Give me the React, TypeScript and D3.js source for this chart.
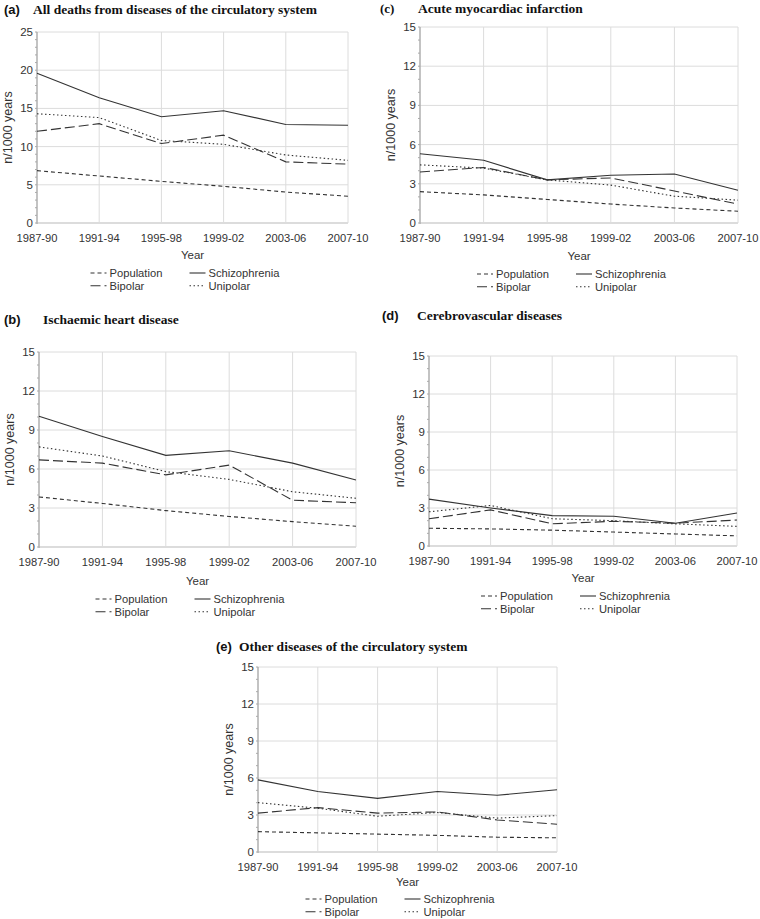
import React from 'react';
import * as d3 from 'd3';

const periods = ['1987-90', '1991-94', '1995-98', '1999-02', '2003-06', '2007-10'];

// (a) All deaths from diseases of the circulatory system
const aPopulation = [6.85, 6.15, 5.45, 4.8, 4.05, 3.5];
const aBipolar = [12.0, 13.0, 10.4, 11.5, 8.0, 7.7];
const aSchizophrenia = [19.6, 16.4, 13.9, 14.7, 12.9, 12.8];
const aUnipolar = [14.3, 13.8, 10.8, 10.3, 8.9, 8.2];

// (b) Ischaemic heart disease
const bPopulation = [3.85, 3.35, 2.8, 2.35, 1.95, 1.6];
const bBipolar = [6.7, 6.45, 5.55, 6.3, 3.6, 3.4];
const bSchizophrenia = [10.05, 8.5, 7.05, 7.4, 6.45, 5.15];
const bUnipolar = [7.7, 7.0, 5.8, 5.2, 4.25, 3.75];

// (c) Acute myocardiac infarction
const cPopulation = [2.4, 2.15, 1.8, 1.45, 1.15, 0.9];
const cBipolar = [3.9, 4.25, 3.3, 3.45, 2.45, 1.45];
const cSchizophrenia = [5.3, 4.8, 3.3, 3.65, 3.75, 2.5];
const cUnipolar = [4.45, 4.2, 3.3, 2.9, 2.05, 1.75];

// (d) Cerebrovascular diseases
const dPopulation = [1.4, 1.35, 1.25, 1.1, 0.95, 0.8];
const dBipolar = [2.15, 2.85, 1.75, 1.95, 1.8, 2.05];
const dSchizophrenia = [3.7, 3.0, 2.4, 2.35, 1.8, 2.6];
const dUnipolar = [2.7, 3.2, 2.15, 2.0, 1.75, 1.55];

// (e) Other diseases of the circulatory system
const ePopulation = [1.65, 1.55, 1.45, 1.35, 1.2, 1.15];
const eBipolar = [3.15, 3.6, 3.15, 3.25, 2.6, 2.25];
const eSchizophrenia = [5.85, 4.9, 4.35, 4.9, 4.6, 5.05];
const eUnipolar = [4.0, 3.55, 2.9, 3.2, 2.75, 2.95];

const ticksAll = [0, 5, 10, 15, 20, 25];
const ticksCause = [0, 3, 6, 9, 12, 15];

const seriesNames = ['Population', 'Bipolar', 'Schizophrenia', 'Unipolar'];
const dashes: Record<string, string> = {
  Population: '4,3',
  Bipolar: '10,4',
  Schizophrenia: 'none',
  Unipolar: '1.5,2.5',
};

const panels = [
  {
    tag: '(a)', title: 'All deaths from diseases of the circulatory system', tagSerif: false,
    series: [aPopulation, aBipolar, aSchizophrenia, aUnipolar], ticks: ticksAll,
    x0: 37, x1: 348, top: 32, bottom: 223, titleY: 14, tagX: 4, titleX: 33, yearGap: 32, legendGap: 50,
  },
  {
    tag: '(b)', title: 'Ischaemic heart disease', tagSerif: false,
    series: [bPopulation, bBipolar, bSchizophrenia, bUnipolar], ticks: ticksCause,
    x0: 39, x1: 356, top: 352, bottom: 547, titleY: 324, tagX: 4, titleX: 43, yearGap: 34, legendGap: 52,
  },
  {
    tag: '(c)', title: 'Acute myocardiac infarction', tagSerif: true,
    series: [cPopulation, cBipolar, cSchizophrenia, cUnipolar], ticks: ticksCause,
    x0: 420, x1: 738, top: 27, bottom: 223, titleY: 13, tagX: 380, titleX: 418, yearGap: 33, legendGap: 51,
  },
  {
    tag: '(d)', title: 'Cerebrovascular diseases', tagSerif: false,
    series: [dPopulation, dBipolar, dSchizophrenia, dUnipolar], ticks: ticksCause,
    x0: 429, x1: 737, top: 356, bottom: 546, titleY: 320, tagX: 382, titleX: 417, yearGap: 32, legendGap: 50,
  },
  {
    tag: '(e)', title: 'Other diseases of the circulatory system', tagSerif: false,
    series: [ePopulation, eBipolar, eSchizophrenia, eUnipolar], ticks: ticksCause,
    x0: 258, x1: 557, top: 667, bottom: 852, titleY: 651, tagX: 216, titleX: 239, yearGap: 30, legendGap: 47,
  },
];

const sans = 'Arial, "Liberation Sans", Helvetica, sans-serif';
const serif = '"Times New Roman", "Liberation Serif", Times, serif';
const ink = '#333';

function Panel({ p }: { p: (typeof panels)[number] }) {
  const x = d3.scalePoint<string>().domain(periods).range([p.x0, p.x1]);
  const yMax = p.ticks[p.ticks.length - 1];
  const y = d3.scaleLinear().domain([0, yMax]).range([p.bottom, p.top]);
  const line = d3.line<number>()
    .x((_, i) => x(periods[i])!)
    .y(d => y(d));
  const minor = d3.range(0, yMax + 1, 1);
  const cx = (p.x0 + p.x1) / 2;
  const legendRows = [
    [seriesNames[0], seriesNames[2]],
    [seriesNames[1], seriesNames[3]],
  ];
  return (
    <g>
      <text x={p.tagX} y={p.titleY} fontFamily={p.tagSerif ? serif : sans} fontWeight="bold" fontSize={13} fill="#111">{p.tag}</text>
      <text x={p.titleX} y={p.titleY} fontFamily={serif} fontWeight="bold" fontSize={13.5} fill="#111">{p.title}</text>

      {/* grid */}
      {p.ticks.map(t => (
        <line key={'h' + t} x1={p.x0} x2={p.x1} y1={y(t)} y2={y(t)} stroke="#dcdcdc" strokeWidth={t === 0 ? 2 : 1} />
      ))}
      {periods.map(c => (
        <line key={'v' + c} x1={x(c)} x2={x(c)} y1={p.top} y2={p.bottom} stroke="#dcdcdc" />
      ))}

      {/* y axis */}
      <line x1={p.x0} x2={p.x0} y1={p.top} y2={p.bottom + 1} stroke="#999" />
      {minor.map(t => (
        <line key={'m' + t} x1={p.x0 - 2} x2={p.x0} y1={y(t)} y2={y(t)} stroke="#aaa" />
      ))}
      {p.ticks.map(t => (
        <text key={'t' + t} x={p.x0 - 4} y={y(t)} dy="0.35em" textAnchor="end" fontFamily={sans} fontSize={11.5} fill={ink}>{t}</text>
      ))}
      {periods.map(c => (
        <text key={'x' + c} x={x(c)} y={p.bottom + 19} textAnchor="middle" fontFamily={sans} fontSize={11.2} fill={ink}>{c}</text>
      ))}
      <text transform={`translate(${p.x0 - 29},${(p.top + p.bottom) / 2}) rotate(-90)`} dy="0.35em" textAnchor="middle" fontFamily={sans} fontSize={12.5} fill={ink}>n/1000 years</text>
      <text x={cx} y={p.bottom + p.yearGap} dy="0.35em" textAnchor="middle" fontFamily={sans} fontSize={11.5} fill={ink}>Year</text>

      {/* series */}
      {p.series.map((vals, i) => (
        <path key={seriesNames[i]} d={line(vals) || ''} fill="none" stroke={ink} strokeWidth={1.1}
          strokeDasharray={dashes[seriesNames[i]]} />
      ))}

      {/* legend */}
      {legendRows.map((row, r) => row.map((name, k) => {
        const lx = cx + (k === 0 ? -102 : -3);
        const ly = p.bottom + p.legendGap + r * 12.8;
        return (
          <g key={name}>
            <line x1={lx} x2={lx + 16} y1={ly} y2={ly} stroke={ink} strokeWidth={1.1} strokeDasharray={dashes[name]} />
            <text x={lx + 19} y={ly} dy="0.35em" fontFamily={sans} fontSize={11.2} fill={ink}>{name}</text>
          </g>
        );
      }))}
    </g>
  );
}

export default function App() {
  return (
    <div style={{ position: 'absolute', left: 0, top: 0 }}>
      <svg width={760} height={919} style={{ display: 'block', background: '#fff' }}>
        {panels.map(p => <Panel key={p.tag} p={p} />)}
      </svg>
    </div>
  );
}
